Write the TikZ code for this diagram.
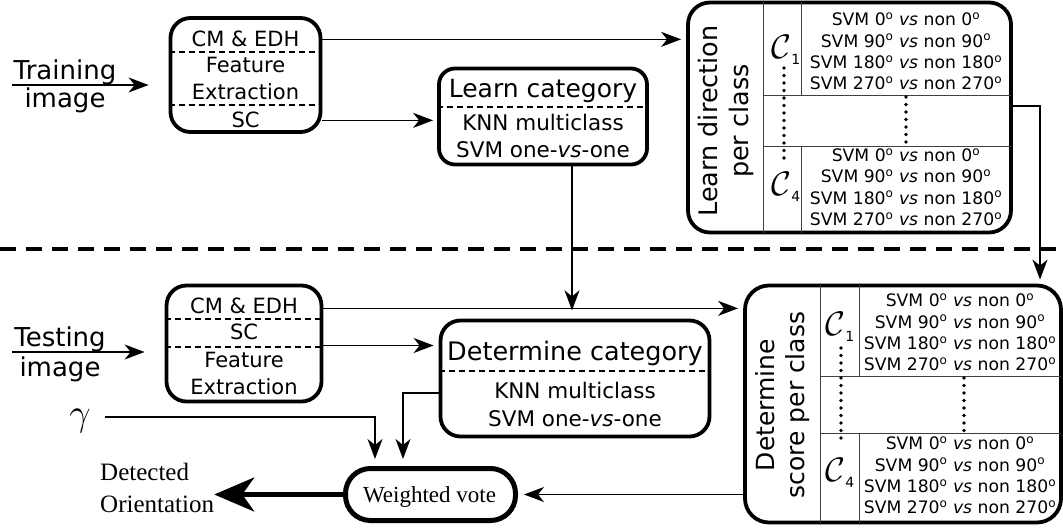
\documentclass[tikz,border=0pt]{standalone}
\usepackage{fix-cm}
\usepackage{fontspec}
\setmainfont{Liberation Serif}
\setsansfont{DejaVu Sans}
\usetikzlibrary{positioning,arrows.meta}

\newcommand{\degr}[1]{#1\textsuperscript{o}}
\newcommand{\svmlist}{SVM \degr{0} \textit{vs} non \degr{0}\\
  SVM \degr{90} \textit{vs} non \degr{90}\\
  SVM \degr{180} \textit{vs} non \degr{180}\\
  SVM \degr{270} \textit{vs} non \degr{270}}
\newcommand{\classc}[1]{$\mathcal{C}$\raisebox{-6pt}{\sffamily\fontsize{14}{14}\selectfont #1}}

\begin{document}
\begin{tikzpicture}[x=1pt, y=-1pt,
    box/.style={draw, line width=3.8pt, rounded corners=20pt, inner sep=0pt},
    label/.style={inner sep=0pt, align=center, font=\sffamily\fontsize{21}{27}\selectfont},
    title/.style={inner sep=0pt, align=center, font=\sffamily\fontsize{25}{30}\selectfont},
    imglbl/.style={inner sep=0pt, anchor=base, font=\sffamily\fontsize{26}{26}\selectfont},
    rows/.style={inner sep=0pt, align=center, font=\sffamily\fontsize{17.2}{21.3}\selectfont},
    classlbl/.style={inner sep=0pt, font=\fontsize{34}{34}\selectfont},
    serif/.style={inner sep=0pt, align=left, font=\rmfamily\fontsize{25}{32}\selectfont},
    divider/.style={line width=1.4pt, dash pattern=on 6pt off 4pt},
    grid/.style={line width=0.9pt, black!75},
    dotcol/.style={line width=3.6pt, line cap=round, dash pattern=on 0pt off 7.5pt},
    arr/.style={line width=1.6pt, -{Stealth[length=20pt, width=15pt, inset=6pt]}},
    sep/.style={line width=4pt, dash pattern=on 16pt off 10pt}
  ]
  \useasboundingbox (0,0) rectangle (1063,529);

  % ---- training part ----
  \node[imglbl] (trainTxt) at (65,80) {Training};
  \node[imglbl] (trainImg) at (65,108) {image};
  \coordinate (trainIn) at (12,85);

  \node[box, minimum width=150pt, minimum height=114pt] (featTrain) at (245.5,75) {};
  \node[label, anchor=base] (cmTrain) at (245.5,47) {CM \& EDH};
  \node[label] (fxTrain) at (245.5,78.5) {Feature\\Extraction};
  \node[label, anchor=base] (scTrain) at (245.5,128) {SC};
  \draw[divider] (featTrain.west |- 0,52) -- (featTrain.east |- 0,52);
  \draw[divider] (featTrain.west |- 0,105) -- (featTrain.east |- 0,105);

  \node[box, rounded corners=16pt, minimum width=208pt, minimum height=96pt] (learnCat) at (543,116.5) {};
  \node[title, anchor=base] (learnCatTitle) at (543,98) {Learn category};
  \node[label, font=\sffamily\fontsize{21.5}{27}\selectfont] (learnCatBody) at (543,135.7) {KNN multiclass\\SVM one-\textit{vs}-one};
  \draw[divider] (learnCat.west |- 0,107) -- (learnCat.east |- 0,107);

  \node[box, rounded corners=22pt, minimum width=323pt, minimum height=230pt] (learnDir) at (849.5,117.5) {};
  \node[title, rotate=90, font=\sffamily\fontsize{25.5}{31}\selectfont] (learnDirTitle) at (725.5,121) {Learn direction\\per class};
  \draw[grid] (763,2) -- (763,233);
  \draw[grid] (801,2) -- (801,95);
  \draw[grid] (801,146) -- (801,233);
  \draw[grid] (763,95) -- (1011,95);
  \draw[grid] (763,146) -- (1011,146);
  \node[classlbl] (dirC1) at (786,50) {\classc{1}};
  \node[classlbl] (dirC4) at (786,187) {\classc{4}};
  \node[rows] (dirRowsA) at (906,51.5) {\svmlist};
  \node[rows] (dirRowsB) at (906,187) {\svmlist};
  \draw[dotcol] (784,68) -- (784,163);
  \draw[dotcol] (906,97) -- (906,145);

  \begin{scope}[arr]
  \draw (trainIn) -- (trainIn -| featTrain.west) [shorten >=20pt];
  \draw[shorten >=5pt] (cmTrain -| featTrain.east) -- (cmTrain -| learnDir.west);
  \draw[shorten >=4pt] (scTrain -| featTrain.east) -- (scTrain -| learnCat.west);
  \end{scope}

  % ---- separator ----
  \draw[sep] (0,249) -- (1063,249);

  % ---- testing part ----
  \node[imglbl] (testTxt) at (60,347) {Testing};
  \node[imglbl] (testImg) at (60,377) {image};
  \coordinate (testIn) at (12,352);

  \node[box, minimum width=155pt, minimum height=116pt] (featTest) at (244,343.5) {};
  \node[label, anchor=base] (cmTest) at (244,314) {CM \& EDH};
  \node[label, anchor=base] (scTest) at (244,340) {SC};
  \node[label] (fxTest) at (244,373.5) {Feature\\Extraction};
  \draw[divider] (featTest.west |- 0,319) -- (featTest.east |- 0,319);
  \draw[divider] (featTest.west |- 0,347) -- (featTest.east |- 0,347);

  \node[box, minimum width=269pt, minimum height=116pt] (detCat) at (575,378.5) {};
  \node[title, anchor=base, font=\sffamily\fontsize{25.5}{31}\selectfont] (detCatTitle) at (575,360) {Determine category};
  \node[label, font=\sffamily\fontsize{21.5}{28}\selectfont] (detCatBody) at (575,404) {KNN multiclass\\SVM one-\textit{vs}-one};
  \draw[divider] (detCat.west |- 0,371) -- (detCat.east |- 0,371);

  \node[box, rounded corners=24pt, minimum width=316pt, minimum height=237pt] (detScore) at (903,404) {};
  \node[title, rotate=90] (detScoreTitle) at (782.5,405) {Determine\\score per class};
  \draw[grid] (820,285) -- (820,523);
  \draw[grid] (859,285) -- (859,376);
  \draw[grid] (859,433) -- (859,523);
  \draw[grid] (820,376) -- (1061,376);
  \draw[grid] (820,433) -- (1061,433);
  \node[classlbl] (scoreC1) at (840,327) {\classc{1}};
  \node[classlbl] (scoreC4) at (840,473) {\classc{4}};
  \node[rows] (scoreRowsA) at (960,332.5) {\svmlist};
  \node[rows] (scoreRowsB) at (960,475.5) {\svmlist};
  \draw[dotcol] (841,348) -- (841,443);
  \draw[dotcol] (964,378) -- (964,433);

  \node[box, line width=5pt, rounded corners=25pt, minimum width=170pt, minimum height=52pt] (vote) at (430.5,494.5) {};
  \node[serif, anchor=base, font=\rmfamily\fontsize{23}{23}\selectfont] (voteTxt) at (429.5,502) {Weighted vote};
  \node[inner sep=0pt, font=\fontsize{38}{38}\selectfont] (gamma) at (80,421) {$\gamma$};
  \node[serif, anchor=west] (detOut) at (100,487.5) {Detected\\Orientation};

  \begin{scope}[arr]
  \draw[shorten >=20pt] (testIn) -- (testIn -| featTest.west);
  \draw[shorten >=5pt] ([yshift=-2pt]cmTest.center -| featTest.east) -- ([yshift=-2pt]cmTest.center -| detScore.west);
  \draw[shorten >=5pt] ([yshift=-2pt]featTest.east) -- ([yshift=-2pt]featTest.east -| detCat.west);
  \coordinate (catDrop) at ([xshift=29pt]learnCat.south);
  \draw (catDrop) -- ([yshift=-4pt]catDrop |- cmTest.center);
  \coordinate (scoreIn) at ([xshift=137pt]detScore.north);
  \draw[shorten >=4pt] ([yshift=11.5pt]learnDir.east) -| (scoreIn);
  \draw[shorten >=6pt] (vote.east -| detScore.west) -- (vote.east);
  \draw[shorten >=7pt] ([yshift=-14.5pt]detCat.west) -| ([xshift=-27.5pt]vote.north);
  \draw[shorten >=7pt] ([xshift=14pt,yshift=4pt]gamma.east) -| ([xshift=-55.5pt]vote.north);
  \draw[line width=4.5pt, -{Stealth[length=40pt, width=34pt, inset=12pt]}] (vote.west) -- (vote.west -| detOut.east);
  \end{scope}
\end{tikzpicture}
\end{document}
